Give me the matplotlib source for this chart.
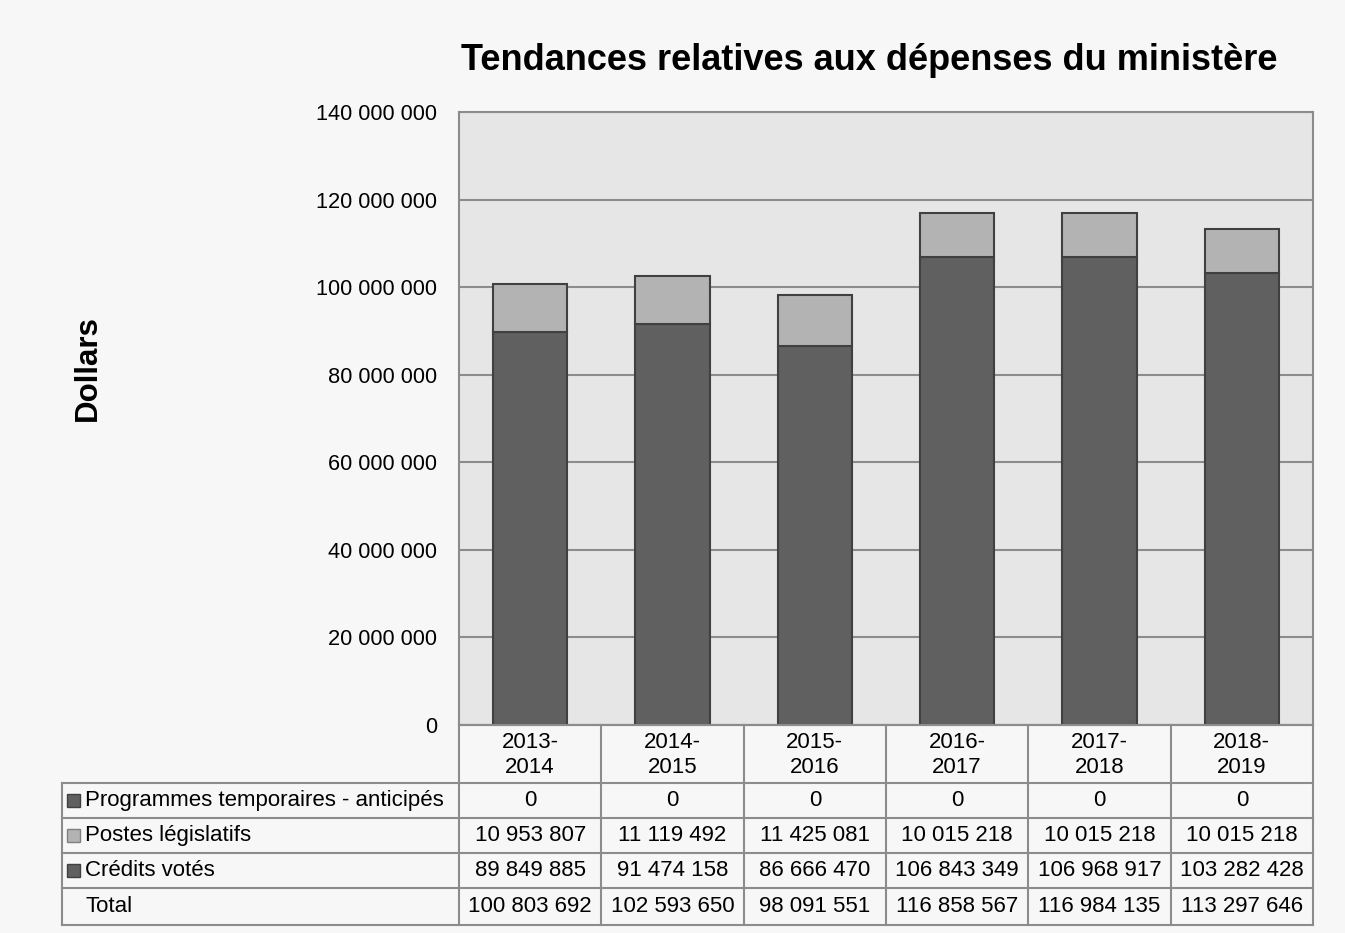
import numpy as np
import matplotlib.pyplot as plt
from matplotlib.patches import Rectangle

plt.rcParams['font.family'] = ['Liberation Sans', 'DejaVu Sans']

#%% data
years = ['2013-\n2014', '2014-\n2015', '2015-\n2016', '2016-\n2017', '2017-\n2018', '2018-\n2019']
programmes = [0, 0, 0, 0, 0, 0]
postes = [10953807, 11119492, 11425081, 10015218, 10015218, 10015218]
credits = [89849885, 91474158, 86666470, 106843349, 106968917, 103282428]
totals = [100803692, 102593650, 98091551, 116858567, 116984135, 113297646]

row_names = ['Programmes temporaires - anticipés', 'Postes législatifs', 'Crédits votés', 'Total']

def fmt(v):
    return f'{v:,}'.replace(',', ' ')

dark = '#606060'
light = '#b3b3b3'
edge = '#404040'
grid_c = '#8c8c8c'

W, H = 1345, 933
fig = plt.figure(figsize=(W / 100, H / 100), dpi=100, facecolor='#f7f7f7')

ax_l, ax_r, ax_t, ax_b = 459, 1313, 112, 725
ax = fig.add_axes([ax_l / W, 1 - ax_b / H, (ax_r - ax_l) / W, (ax_b - ax_t) / H])
ax.set_facecolor('#e6e6e6')

x = np.arange(len(years))
bw = 0.52
ax.bar(x, credits, bw, color=dark, edgecolor=edge, linewidth=1.5, zorder=3)
ax.bar(x, postes, bw, bottom=credits, color=light, edgecolor=edge, linewidth=1.5, zorder=3)
ax.bar(x, programmes, bw, bottom=np.add(credits, postes), color=dark, edgecolor=edge, linewidth=0, zorder=3)

ax.set_xlim(-0.5, len(years) - 0.5)
ax.set_ylim(0, 140000000)
ax.set_yticks(np.arange(0, 140000001, 20000000))
ax.set_yticklabels([fmt(v) for v in range(0, 140000001, 20000000)], fontsize=15.7)
ax.tick_params(axis='y', length=0, pad=16)
ax.set_xticks([])
ax.grid(axis='y', color=grid_c, linewidth=1.5, zorder=1)
for s in ax.spines.values():
    s.set_color(grid_c)
    s.set_linewidth(1.5)

fig.text(869 / W, 1 - 61 / H, 'Tendances relatives aux dépenses du ministère',
         fontsize=26, fontweight='bold', ha='center', va='center')
fig.text(88 / W, 1 - 368 / H, 'Dollars', fontsize=22.5, fontweight='bold',
         rotation=90, ha='center', va='center')

#%% table
tb_l, tb_b = 62, 925
col_w = (ax_r - ax_l) / len(years)
label_w = (ax_l - tb_l) / col_w
tab = fig.add_axes([tb_l / W, 1 - tb_b / H, (ax_r - tb_l) / W, (tb_b - ax_b) / H])
tab.set_xlim(-0.5 - label_w, len(years) - 0.5)
tab.set_ylim(tb_b, ax_b)
tab.axis('off')

row_edges = [725, 783, 818, 853, 888, 925]
left = -0.5 - label_w
right = len(years) - 0.5
lc = dict(color=grid_c, linewidth=1.5, clip_on=False)

# horizontal lines
tab.plot([-0.5, right], [row_edges[0]] * 2, **lc)
for yv in row_edges[1:]:
    tab.plot([left, right], [yv, yv], **lc)
# vertical lines
for xv in np.arange(-0.5, len(years)):
    tab.plot([xv, xv], [row_edges[0], row_edges[-1]], **lc)
tab.plot([left, left], [row_edges[1], row_edges[-1]], **lc)

fs = 16
for i, yr in enumerate(years):
    tab.text(i, (row_edges[0] + row_edges[1]) / 2 + 1, yr, ha='center', va='center',
             fontsize=fs, linespacing=1.25)

rows = [programmes, postes, credits, totals]
marks = [dark, light, dark, None]
for r, (name, vals, mc) in enumerate(zip(row_names, rows, marks)):
    yc = (row_edges[r + 1] + row_edges[r + 2]) / 2
    for i, v in enumerate(vals):
        tab.text(i, yc, fmt(v), ha='center', va='center', fontsize=fs)
    if mc is not None:
        sq = 13 / col_w
        tab.add_patch(Rectangle((left + 5 / col_w, yc - 6.5), sq, 13,
                                facecolor=mc, edgecolor=edge if mc == dark else '#808080',
                                linewidth=1, clip_on=False))
    tab.text(left + 23 / col_w, yc, name, ha='left', va='center', fontsize=fs)

plt.savefig('out.png', dpi=100, facecolor=fig.get_facecolor())
